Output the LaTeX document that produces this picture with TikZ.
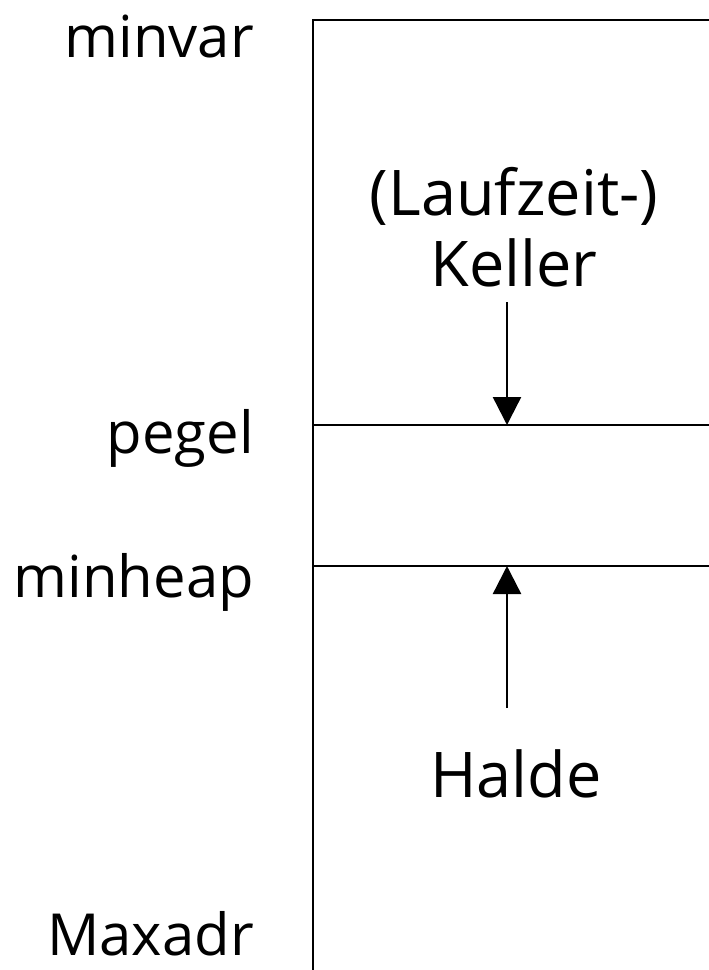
\documentclass[tikz,border=0pt]{standalone}
\usepackage{fontspec}
\setmainfont{Open Sans}
\usetikzlibrary{arrows.meta}
\begin{document}
\begin{tikzpicture}[x=1pt,y=-1pt,
  wall/.style={line width=2.4pt},
  lbl/.style={font=\fontsize{58}{66}\selectfont, inner sep=0pt},
  area/.style={font=\fontsize{63}{72}\selectfont, inner sep=0pt},
  ptr/.style={line width=2.4pt, -{Triangle[length=28pt,width=28pt]}}]
  \useasboundingbox (0,0) rectangle (709,970);
  % memory block, open to the right and at the bottom
  \coordinate (tl) at (313,20);
  \coordinate (tr) at (709,20);
  \coordinate (bl) at (313,970);
  \coordinate (pl) at (313,425);
  \coordinate (pr) at (709,425);
  \coordinate (hl) at (313,566);
  \coordinate (hr) at (709,566);
  \draw[wall] (tr) -- (tl) -- (bl);
  \draw[wall] (pl) -- (pr);
  \draw[wall] (hl) -- (hr);
  % address labels
  \node[lbl, anchor=base east] (minvar) at (254,57) {minvar};
  \node[lbl, anchor=base east] (pegel) at (254,453) {pegel};
  \node[lbl, anchor=base east] (minheap) at (254,597) {minheap};
  \node[lbl, anchor=base east] (maxadr) at (254,955) {Maxadr};
  % regions
  \node[area, anchor=base] (lauf) at (514,215) {(Laufzeit-)};
  \node[area, anchor=base] (keller) at (514,286) {Keller};
  \node[area, anchor=base] (halde) at (516,797) {Halde};
  % growth directions
  \coordinate (kt) at (507,302);
  \coordinate (kh) at (507,425);
  \coordinate (ht) at (507,708);
  \coordinate (hh) at (507,566);
  \draw[ptr] (kt) -- (kh);
  \draw[ptr] (ht) -- (hh);
\end{tikzpicture}
\end{document}
